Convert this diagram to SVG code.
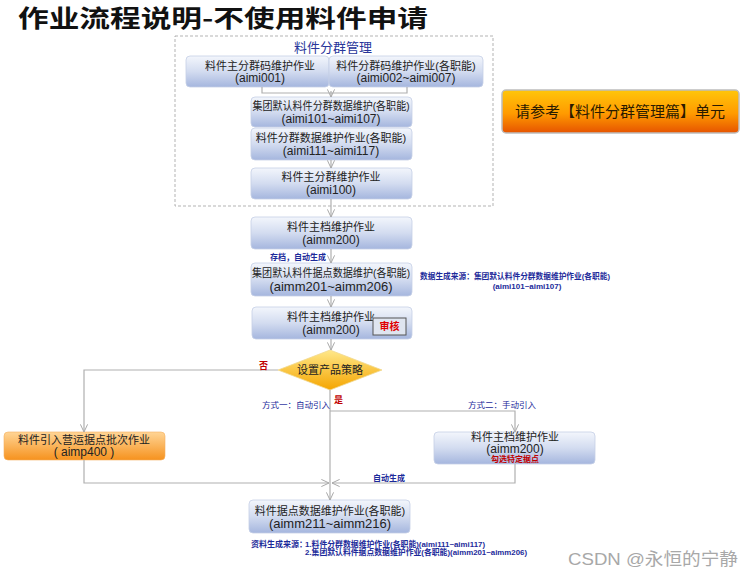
<svg xmlns="http://www.w3.org/2000/svg" width="754" height="580" viewBox="0 0 754 580">
<defs>
<linearGradient id="gBlue" x1="0" y1="0" x2="0" y2="1">
<stop offset="0" stop-color="#f3f6fc"/><stop offset="0.5" stop-color="#d3dcf0"/><stop offset="1" stop-color="#a5b6de"/>
</linearGradient>
<linearGradient id="gOrL" x1="0" y1="0" x2="0" y2="1">
<stop offset="0" stop-color="#ffd596"/><stop offset="1" stop-color="#f6921e"/>
</linearGradient>
<linearGradient id="gOrR" x1="0" y1="0" x2="0" y2="1">
<stop offset="0" stop-color="#ffc60a"/><stop offset="0.55" stop-color="#ff9a00"/><stop offset="1" stop-color="#e65300"/>
</linearGradient>
<linearGradient id="gDia" x1="0" y1="0" x2="0" y2="1">
<stop offset="0" stop-color="#ffe88a"/><stop offset="1" stop-color="#f5a500"/>
</linearGradient>
<marker id="arr" viewBox="0 0 10 10" refX="9.5" refY="5" markerWidth="9" markerHeight="9" orient="auto" markerUnits="userSpaceOnUse">
<path d="M1,1 L9.5,5 L1,9" fill="none" stroke="#a8a8a8" stroke-width="1.1"/>
</marker>
<style>
.box{fill:url(#gBlue);stroke:#c5cfe6;stroke-width:0.8}
.t{font-family:"Liberation Sans","Noto Sans CJK SC",sans-serif;font-size:12px;fill:#222;text-anchor:middle}
.s{font-family:"Liberation Sans","Noto Sans CJK SC",sans-serif;font-size:8px;fill:#1c2a9a;font-weight:bold}
.r{font-family:"Liberation Sans","Noto Sans CJK SC",sans-serif;font-size:9px;fill:#c00000;font-weight:bold}
.con{fill:none;stroke:#b0b0b0;stroke-width:1.2}
</style>
</defs>
<rect width="754" height="580" fill="#ffffff"/>
<text x="18" y="27" font-family="'Noto Sans CJK SC',sans-serif" font-weight="bold" font-size="24" fill="#111" textLength="410" lengthAdjust="spacingAndGlyphs">作业流程说明-不使用料件申请</text>

<g id="group-area">
<rect x="175" y="36" width="318" height="170" fill="none" stroke="#aaaaaa" stroke-width="0.9" stroke-dasharray="3,2"/>
<text x="333" y="52" class="t" style="font-size:13px;fill:#28359a">料件分群管理</text>
</g>

<g id="n-aimi001">
<rect class="box" x="186" y="56" width="143" height="31" rx="4"/>
<text class="t" x="260" y="70" style="font-size:11px">料件主分群码维护作业</text>
<text class="t" x="260" y="82">(aimi001)</text>
</g>
<g id="n-aimi002">
<rect class="box" x="329" y="56" width="154" height="31" rx="4"/>
<text class="t" x="406" y="70" style="font-size:11px">料件分群码维护作业(各职能)</text>
<text class="t" x="406" y="82">(aimi002~aimi007)</text>
</g>
<g id="n-aimi101">
<rect class="box" x="251" y="97" width="161" height="30" rx="4"/>
<text class="t" x="331" y="110" style="font-size:11px" textLength="157" lengthAdjust="spacingAndGlyphs">集团默认料件分群数据维护(各职能)</text>
<text class="t" x="331" y="123">(aimi101~aimi107)</text>
</g>
<g id="n-aimi111">
<rect class="box" x="251" y="128" width="161" height="32" rx="4"/>
<text class="t" x="331" y="142" style="font-size:11px">料件分群数据维护作业(各职能)</text>
<text class="t" x="331" y="155">(aimi111~aimi117)</text>
</g>
<g id="n-aimi100">
<rect class="box" x="251" y="168" width="161" height="31" rx="4"/>
<text class="t" x="331" y="181" style="font-size:11px">料件主分群维护作业</text>
<text class="t" x="331" y="194">(aimi100)</text>
</g>

<g id="n-ref">
<rect x="502" y="90" width="237" height="43" rx="4" fill="url(#gOrR)" stroke="#bdbdbd" stroke-width="1.5"/>
<text class="t" x="620" y="117" style="font-size:15px;fill:#2a1a00">请参考【料件分群管理篇】单元</text>
</g>

<g id="n-aimm200a">
<rect class="box" x="251" y="217" width="161" height="32" rx="4"/>
<text class="t" x="331" y="231" style="font-size:11px">料件主档维护作业</text>
<text class="t" x="331" y="244">(aimm200)</text>
</g>
<g id="n-aimm201">
<rect class="box" x="251" y="263" width="161" height="33" rx="4"/>
<text class="t" x="331" y="277" style="font-size:11px" textLength="158" lengthAdjust="spacingAndGlyphs">集团默认料件据点数据维护(各职能)</text>
<text class="t" x="331" y="291" style="font-size:13px">(aimm201~aimm206)</text>
</g>
<g id="n-aimm200b">
<rect class="box" x="252" y="307" width="160" height="32" rx="4"/>
<text class="t" x="331" y="321" style="font-size:11px">料件主档维护作业</text>
<text class="t" x="331" y="334">(aimm200)</text>
<rect x="373" y="318" width="33" height="17" fill="#dfe5f0" stroke="#555" stroke-width="1"/>
<text x="389.5" y="330" class="r" style="font-size:10px;text-anchor:middle;fill:#e00000">审核</text>
</g>

<g id="n-decision">
<polygon points="330,350 382,370 330,390 278,370" fill="url(#gDia)" stroke="#f0d890" stroke-width="0.8"/>
<text class="t" x="330" y="374" style="font-size:11px">设置产品策略</text>
</g>

<g id="n-aimp400">
<rect x="4" y="432" width="161" height="28" rx="4" fill="url(#gOrL)" stroke="#f5b060" stroke-width="0.6"/>
<text class="t" x="84" y="444" style="font-size:11px">料件引入营运据点批次作业</text>
<text class="t" x="84" y="456">( aimp400 )</text>
</g>

<g id="n-aimm200c">
<rect class="box" x="434" y="432" width="161" height="32" rx="4"/>
<text class="t" x="515" y="441" style="font-size:11px">料件主档维护作业</text>
<text class="t" x="515" y="453">(aimm200)</text>
<text class="r" x="515" y="462" style="font-size:8px;text-anchor:middle">勾选特定据点</text>
</g>

<g id="n-aimm211">
<rect class="box" x="249" y="500" width="161" height="33" rx="4"/>
<text class="t" x="330" y="515" style="font-size:11px">料件据点数据维护作业(各职能)</text>
<text class="t" x="330" y="528" style="font-size:13px">(aimm211~aimm216)</text>
</g>

<g id="connectors">
<path class="con" d="M262,87 V93 H407 V87"/>
<path class="con" d="M331,91 V97" marker-end="url(#arr)"/>
<path class="con" d="M331,160 V168" marker-end="url(#arr)"/>
<path class="con" d="M331,199 V217" marker-end="url(#arr)"/>
<path class="con" d="M331,249 V263" marker-end="url(#arr)"/>
<path class="con" d="M331,296 V307" marker-end="url(#arr)"/>
<path class="con" d="M331,339 V350" marker-end="url(#arr)"/>
<path class="con" d="M278,370 H84 V432" marker-end="url(#arr)"/>
<path class="con" d="M84,460 V483 H329" marker-end="url(#arr)"/>
<path class="con" d="M330,390 V500" marker-end="url(#arr)"/>
<path class="con" d="M330,411 H515 V432" marker-end="url(#arr)"/>
<path class="con" d="M515,464 V483 H332" marker-end="url(#arr)"/>
</g>

<g id="labels">
<text class="s" x="270" y="260">存档，自动生成</text>
<text class="s" x="420" y="279" textLength="190" lengthAdjust="spacingAndGlyphs">数据生成来源：集团默认料件分群数据维护作业(各职能)</text>
<text class="s" x="527" y="289" text-anchor="middle">(aimi101~aimi107)</text>
<text class="r" x="259" y="369">否</text>
<text class="r" x="334" y="403">是</text>
<text class="s" x="262" y="408" style="font-weight:normal;font-size:8.5px">方式一：自动引入</text>
<text class="s" x="468" y="408" style="font-weight:normal;font-size:8.5px">方式二：手动引入</text>
<text class="s" x="373" y="481">自动生成</text>
<text class="s" x="251" y="547">资料生成来源：</text>
<text class="s" x="305" y="547" textLength="180" lengthAdjust="spacingAndGlyphs">1.料件分群数据维护作业(各职能)(aimi111~aimi117)</text>
<text class="s" x="305" y="555" textLength="222" lengthAdjust="spacingAndGlyphs">2.集团默认料件据点数据维护作业(各职能)(aimm201~aimm206)</text>
</g>

<text x="568" y="565" font-family="'Liberation Sans','Noto Sans CJK SC',sans-serif" font-size="17" fill="#a8a8a8" textLength="170" lengthAdjust="spacingAndGlyphs">CSDN @永恒的宁静</text>
</svg>
